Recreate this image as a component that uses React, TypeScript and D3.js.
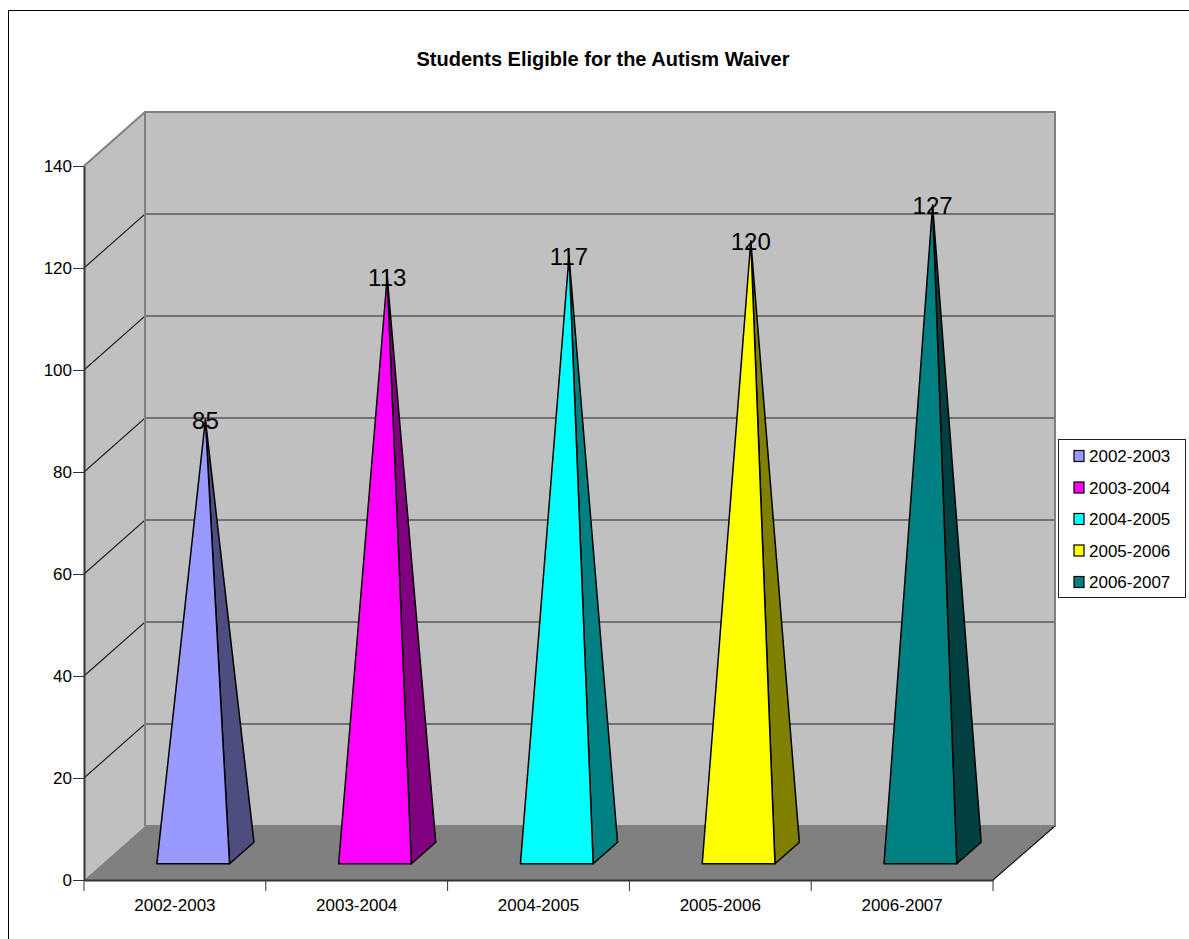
import * as d3 from "d3";
import { useEffect, useRef } from "react";

const years = ["2002-2003", "2003-2004", "2004-2005", "2005-2006", "2006-2007"];
const students = [85, 113, 117, 120, 127];
const yTicks = [0, 20, 40, 60, 80, 100, 120, 140];
const colors = ["#9999FF", "#FF00FF", "#00FFFF", "#FFFF00", "#008080"];
const title = "Students Eligible for the Autism Waiver";

const FONT = "'Liberation Sans', Arial, sans-serif";

export default function App() {
    const ref = useRef<SVGSVGElement>(null);

    const width = 1189,
        height = 939,
        depthX = 61,
        depthY = 54;

    useEffect(() => {
        const svg = d3.select(ref.current);
        svg.selectAll("*").remove();
        svg.attr("width", width).attr("height", height);

        const x = d3.scaleBand().domain(years).range([84, 993]);
        const y = d3.scaleLinear().domain([0, 140]).range([880, 166]);

        // front plane coordinate pushed back by a 0..1 depth
        const at = (px: number, py: number, d: number): [number, number] => [px + depthX * d, py - depthY * d];
        const poly = (pts: [number, number][]) => pts.map((p) => p.join(",")).join(" ");

        // outer frame runs off the page on the right and bottom
        svg.append("rect")
            .attr("x", 8.5).attr("y", 10.5)
            .attr("width", width).attr("height", height)
            .attr("fill", "white").attr("stroke", "black").attr("stroke-width", 1);

        svg.append("text")
            .attr("x", 603).attr("y", 66)
            .attr("text-anchor", "middle")
            .attr("font-family", FONT).attr("font-weight", "bold").attr("font-size", 20)
            .text(title);

        const [x0, x1] = x.range();
        const [y0, yTop] = y.range();

        // back wall
        svg.append("rect")
            .attr("x", x0 + depthX).attr("y", yTop - depthY)
            .attr("width", x1 - x0 + 1).attr("height", y0 - yTop)
            .attr("fill", "#C0C0C0");
        // side wall
        svg.append("polygon")
            .attr("points", poly([[x0, y0], [x0, yTop], at(x0, yTop, 1), at(x0, y0, 1)]))
            .attr("fill", "#C0C0C0");
        // floor
        svg.append("polygon")
            .attr("points", poly([[x0, y0], [x1, y0], at(x1 + 1, y0, 1), at(x0, y0, 1)]))
            .attr("fill", "#808080");

        // gridlines
        yTicks.slice(1, -1).forEach((t) => {
            svg.append("polyline")
                .attr("points", poly([[x0, y(t)], at(x0, y(t), 1), at(x1 + 1, y(t), 1)]))
                .attr("fill", "none").attr("stroke", "#222").attr("stroke-width", 1.2);
        });

        // wall edges
        svg.append("polyline")
            .attr("points", poly([[x0, yTop], at(x0, yTop, 1), at(x1 + 1, yTop, 1), at(x1 + 1, y0, 1), at(x0, y0, 1)]))
            .attr("fill", "none").attr("stroke", "#808080").attr("stroke-width", 2);
        svg.append("line")
            .attr("x1", x0 + depthX).attr("y1", yTop - depthY)
            .attr("x2", x0 + depthX).attr("y2", y0 - depthY)
            .attr("stroke", "#808080").attr("stroke-width", 2);
        svg.append("line")
            .attr("x1", x1).attr("y1", y0)
            .attr("x2", x1 + depthX + 1).attr("y2", y0 - depthY)
            .attr("stroke", "#111").attr("stroke-width", 1.2);

        // pyramids
        const halfBase = x.step() * 0.2;
        years.forEach((year, i) => {
            const c = x(year)! + x.bandwidth() / 2;
            const left = at(c - halfBase, y(0), 0.3);
            const right = at(c + halfBase, y(0), 0.3);
            const back = at(c + halfBase, y(0), 0.7);
            const tip = at(c, y(students[i]), 0.5);
            svg.append("polygon")
                .attr("points", poly([right, back, tip]))
                .attr("fill", d3.interpolateRgb(colors[i], "black")(0.5))
                .attr("stroke", "black").attr("stroke-width", 1.5).attr("stroke-linejoin", "round");
            svg.append("polygon")
                .attr("points", poly([left, right, tip]))
                .attr("fill", colors[i])
                .attr("stroke", "black").attr("stroke-width", 1.5).attr("stroke-linejoin", "round");
        });

        // value labels
        years.forEach((year, i) => {
            const c = x(year)! + x.bandwidth() / 2;
            const tip = at(c, y(students[i]), 0.5);
            svg.append("text")
                .attr("x", tip[0]).attr("y", tip[1] + 9)
                .attr("text-anchor", "middle")
                .attr("font-family", FONT).attr("font-size", 24)
                .text(students[i]);
        });

        // axes
        const yAxis = svg.append("g")
            .attr("transform", `translate(${x0},0)`)
            .call(d3.axisLeft(y).tickValues(yTicks).tickSize(11).tickSizeOuter(0).tickPadding(1));
        const xAxis = svg.append("g")
            .attr("transform", `translate(0,${y0})`)
            .call(d3.axisBottom(x).tickSize(0).tickSizeOuter(0).tickPadding(19));
        x.domain().concat("").forEach((year, i) => {
            svg.append("line")
                .attr("x1", x0 + i * x.step()).attr("x2", x0 + i * x.step())
                .attr("y1", y0).attr("y2", y0 + 11)
                .attr("stroke", "#333").attr("stroke-width", 1);
        });
        [yAxis, xAxis].forEach((axis) => {
            axis.attr("font-family", FONT).attr("font-size", 17);
            axis.selectAll("text").attr("fill", "black");
            axis.selectAll("path").attr("stroke", "#333").attr("stroke-width", 2);
            axis.selectAll("line").attr("stroke", "#333");
        });

        // legend
        const legendY = d3.scalePoint().domain(years).range([456, 582]);
        svg.append("rect")
            .attr("x", 1058.5).attr("y", 439.5)
            .attr("width", 127).attr("height", 158)
            .attr("fill", "white").attr("stroke", "#222").attr("stroke-width", 1);
        years.forEach((year, i) => {
            svg.append("rect")
                .attr("x", 1074).attr("y", legendY(year)! - 5.5)
                .attr("width", 10).attr("height", 11)
                .attr("fill", colors[i]).attr("stroke", "black").attr("stroke-width", 1.2);
            svg.append("text")
                .attr("x", 1089).attr("y", legendY(year)! + 6)
                .attr("font-family", FONT).attr("font-size", 17)
                .text(year);
        });
    }, []);

    return <svg ref={ref} style={{ position: "absolute", left: 0, top: 0 }}></svg>;
}
